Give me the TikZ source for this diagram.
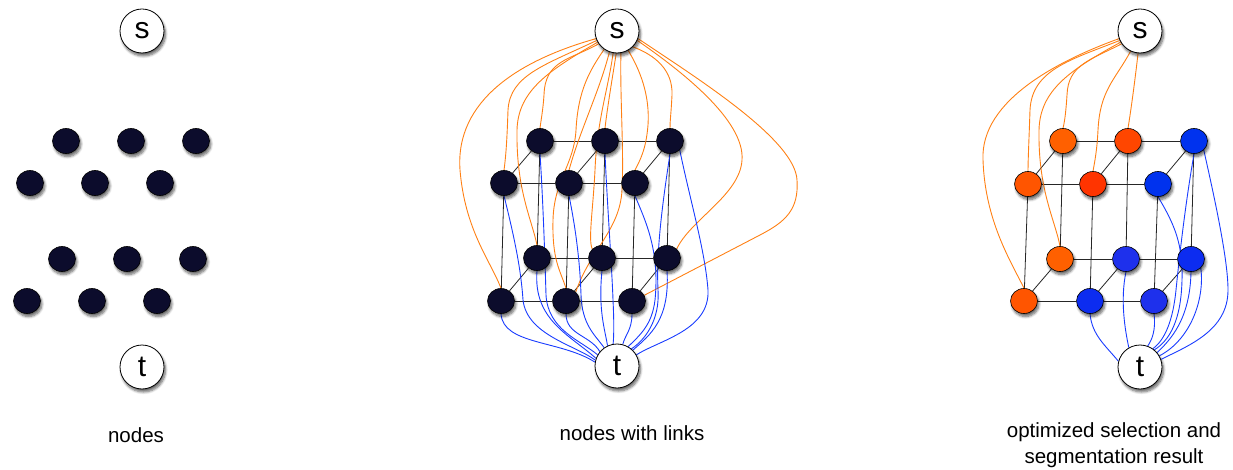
\documentclass[tikz,border=0pt]{standalone}
\usepackage{fontspec}
\setmainfont{Liberation Sans}
\usetikzlibrary{shapes.geometric,shadows.blur,backgrounds}

\definecolor{dotfill}{RGB}{12,12,44}
\definecolor{linkorange}{RGB}{255,128,20}
\definecolor{linkblue}{RGB}{25,60,255}
\definecolor{segA}{RGB}{255,96,0}
\definecolor{segB}{RGB}{255,70,0}
\definecolor{segC}{RGB}{255,52,0}
\definecolor{segD}{RGB}{255,85,0}
\definecolor{bgA}{RGB}{0,50,238}
\definecolor{bgB}{RGB}{30,48,236}
\definecolor{bgC}{RGB}{12,44,240}

\tikzset{
  shade/.style={blur shadow={shadow xshift=1.5pt, shadow yshift=-3pt,
      shadow blur radius=2.5pt, shadow blur steps=6, shadow opacity=60}},
  term/.style={circle, draw=black, line width=0.8pt, fill=white,
      minimum size=44pt, inner sep=0pt, shade,
      font=\fontsize{30}{34}\selectfont},
  dot/.style={ellipse, draw=black, line width=0.6pt, fill=dotfill,
      minimum width=27pt, minimum height=25pt, inner sep=0pt, shade},
  odot/.style={dot, fill=#1},
  grid/.style={draw=black!85, line width=0.8pt},
  olink/.style={draw=linkorange, line width=0.9pt},
  blink/.style={draw=linkblue, line width=0.9pt},
  caption/.style={align=center, font=\fontsize{20.5}{26}\selectfont}
}

\begin{document}
\begin{tikzpicture}[x=1pt, y=-1pt]
\useasboundingbox (0,0) rectangle (1233,470);

% ---------------- first panel: bare nodes ----------------
\node[term] (Ls) at (142,31) {s};
\node[term] (Lt) at (142,367) {t};
\node[dot] (La11) at (66,141) {};
\node[dot] (La12) at (131,141) {};
\node[dot] (La13) at (196,141) {};
\node[dot] (Lb11) at (30,183) {};
\node[dot] (Lb12) at (95,183) {};
\node[dot] (Lb13) at (160,183) {};
\node[dot] (La21) at (62,259) {};
\node[dot] (La22) at (127,259) {};
\node[dot] (La23) at (193,259) {};
\node[dot] (Lb21) at (27,301) {};
\node[dot] (Lb22) at (92,301) {};
\node[dot] (Lb23) at (157,301) {};
\node[caption] (Lcap) at (136,435) {nodes};

% ---------------- second panel: nodes with links ----------------
\node[term] (Ms) at (617,31) {s};
\node[term] (Mt) at (617,366) {t};
\node[dot] (Ma11) at (540,141) {};
\node[dot] (Ma12) at (605,141) {};
\node[dot] (Ma13) at (670,141) {};
\node[dot] (Mb11) at (504,183) {};
\node[dot] (Mb12) at (569,183) {};
\node[dot] (Mb13) at (635,183) {};
\node[dot] (Ma21) at (537,258) {};
\node[dot] (Ma22) at (602,258) {};
\node[dot] (Ma23) at (667,258) {};
\node[dot] (Mb21) at (501,301) {};
\node[dot] (Mb22) at (566,301) {};
\node[dot] (Mb23) at (632,301) {};
\node[caption] (Mcap) at (632,433) {nodes with links};

% ---------------- third panel: segmentation ----------------
\node[term] (Rs) at (1140,31) {s};
\node[term] (Rt) at (1140,367) {t};
\node[odot=segA] (Ra11) at (1063,141) {};
\node[odot=segB] (Ra12) at (1128,141) {};
\node[odot=bgA]  (Ra13) at (1194,141) {};
\node[odot=segD] (Rb11) at (1028,184) {};
\node[odot=segC] (Rb12) at (1093,184) {};
\node[odot=bgA]  (Rb13) at (1158,184) {};
\node[odot=segA] (Ra21) at (1060,259) {};
\node[odot=bgB]  (Ra22) at (1126,259) {};
\node[odot=bgC]  (Ra23) at (1191,259) {};
\node[odot=segD] (Rb21) at (1024,301) {};
\node[odot=bgC]  (Rb22) at (1090,301) {};
\node[odot=bgB]  (Rb23) at (1154,301) {};
\node[caption] (Rcap) at (1114,445) {optimized selection and\\segmentation result};

\begin{pgfonlayer}{background}
% lattice edges of the two linked panels
\foreach \p in {M,R}{
  \foreach \l in {1,2}{
    \draw[grid] (\p a\l1) -- (\p a\l2) -- (\p a\l3);
    \draw[grid] (\p b\l1) -- (\p b\l2) -- (\p b\l3);
    \foreach \c in {1,2,3}{
      \draw[grid] (\p b\l\c) -- (\p a\l\c);
    }
  }
  \foreach \c in {1,2,3}{
    \draw[grid] (\p a1\c) -- (\p a2\c);
    \draw[grid] (\p b1\c) -- (\p b2\c);
  }
}

% source links, second panel
\draw[olink] (Ms.200) .. controls (520,60) and (455,100) .. (460,170)
  .. controls (465,230) and (490,260) .. (Mb21.north);
\draw[olink] (Ms.205) .. controls (545,65) and (510,75) .. (508,110)
  .. controls (507,140) and (506,155) .. (Mb11.north);
\draw[olink] (Ms.215) .. controls (570,60) and (545,60) .. (544,95)
  .. controls (543,110) and (541,120) .. (Ma11.north);
\draw[olink] (Ms.210) .. controls (550,70) and (518,90) .. (517,130)
  .. controls (516,190) and (532,220) .. (Ma21.north);
\draw[olink] (Ms.235) .. controls (590,70) and (578,90) .. (576,130)
  .. controls (574,165) and (554,180) .. (553,220)
  .. controls (552,260) and (560,270) .. (Mb22.north);
\draw[olink] (Ms.250) .. controls (600,90) and (580,130) .. (Mb12.north);
\draw[olink] (Ms.260) .. controls (608,90) and (597,120) .. (595,170)
  .. controls (593,210) and (588,240) .. (Ma22.north west);
\draw[olink] (Ms.280) .. controls (620,100) and (624,150) .. (622,190)
  .. controls (620,230) and (590,250) .. (Mb22.north east);
\draw[olink] (Ms.268) .. controls (612,80) and (607,110) .. (Ma12.north);
\draw[olink] (Ms.300) .. controls (640,70) and (650,95) .. (648,125)
  .. controls (646,150) and (640,160) .. (Mb13.north);
\draw[olink] (Ms.315) .. controls (655,55) and (673,70) .. (672,95)
  .. controls (671,115) and (670,120) .. (Ma13.north);
\draw[olink] (Ms.335) .. controls (680,70) and (745,120) .. (742,160)
  .. controls (740,195) and (690,220) .. (Ma23.north east);
\draw[olink] (Ms.340) .. controls (700,80) and (795,140) .. (797,180)
  .. controls (799,210) and (785,222) .. (760,235) -- (Mb23.25);

% sink links, second panel
\draw[blink] (Mb21.south) .. controls (503,345) and (560,340) .. (Mt.170);
\draw[blink] (Ma21.south) .. controls (533,320) and (570,335) .. (Mt.160);
\draw[blink] (Mb22.south) .. controls (566,335) and (590,335) .. (Mt.140);
\draw[blink] (Ma22.south) .. controls (598,310) and (605,330) .. (Mt.115);
\draw[blink] (Mb23.south) .. controls (632,330) and (625,335) .. (Mt.75);
\draw[blink] (Ma23.south) .. controls (670,320) and (650,335) .. (Mt.45);
\draw[blink] (Mb11.south) .. controls (515,240) and (521,270) .. (523,300)
  .. controls (527,335) and (575,345) .. (Mt.165);
\draw[blink] (Ma11.south) .. controls (543,200) and (545,260) .. (546,295)
  .. controls (548,330) and (580,340) .. (Mt.150);
\draw[blink] (Mb12.south) .. controls (575,225) and (580,260) .. (581,295)
  .. controls (582,325) and (595,335) .. (Mt.125);
\draw[blink] (Ma12.south) .. controls (607,200) and (612,270) .. (613,300)
  .. controls (614,320) and (614,335) .. (Mt.100);
\draw[blink] (Mb13.south) .. controls (645,220) and (660,250) .. (655,300)
  .. controls (652,325) and (640,335) .. (Mt.60);
\draw[blink] (Ma13.south) .. controls (663,200) and (656,250) .. (658,290)
  .. controls (660,320) and (645,340) .. (Mt.50);
\draw[blink] (Ma13.south east) .. controls (690,200) and (705,250) .. (708,290)
  .. controls (710,330) and (660,340) .. (Mt.30);

% source links, third panel
\draw[olink] (Rs.200) .. controls (1060,60) and (980,100) .. (983,160)
  .. controls (985,220) and (1010,260) .. (Rb21.north);
\draw[olink] (Rs.205) .. controls (1070,60) and (1032,70) .. (1030,110)
  .. controls (1029,140) and (1028,160) .. (Rb11.north);
\draw[olink] (Rs.215) .. controls (1090,60) and (1068,65) .. (1067,95)
  .. controls (1066,110) and (1065,120) .. (Ra11.north);
\draw[olink] (Rs.210) .. controls (1070,70) and (1040,90) .. (1039,130)
  .. controls (1038,190) and (1055,220) .. (Ra21.north);
\draw[olink] (Rs.245) .. controls (1115,80) and (1100,90) .. (1098,130)
  .. controls (1097,150) and (1095,160) .. (Rb12.north);
\draw[olink] (Rs.265) .. controls (1135,80) and (1131,110) .. (Ra12.north);

% sink links, third panel
\draw[blink] (Rb22.south) .. controls (1092,335) and (1105,345) .. (Rt.165);
\draw[blink] (Ra22.south) .. controls (1120,300) and (1125,330) .. (Rt.120);
\draw[blink] (Rb23.south) .. controls (1156,330) and (1152,340) .. (Rt.70);
\draw[blink] (Ra23.south) .. controls (1190,320) and (1170,340) .. (Rt.40);
\draw[blink] (Ra23.south east) .. controls (1205,300) and (1190,340) .. (Rt.30);
\draw[blink] (Rb13.south) .. controls (1175,225) and (1183,245) .. (1182,280)
  .. controls (1181,320) and (1170,340) .. (Rt.50);
\draw[blink] (Ra13.south) .. controls (1186,200) and (1180,250) .. (1176,290)
  .. controls (1173,320) and (1165,340) .. (Rt.55);
\draw[blink] (Ra13.south east) .. controls (1215,200) and (1228,260) .. (1228,290)
  .. controls (1228,330) and (1190,345) .. (Rt.20);
\end{pgfonlayer}
\end{tikzpicture}
\end{document}
